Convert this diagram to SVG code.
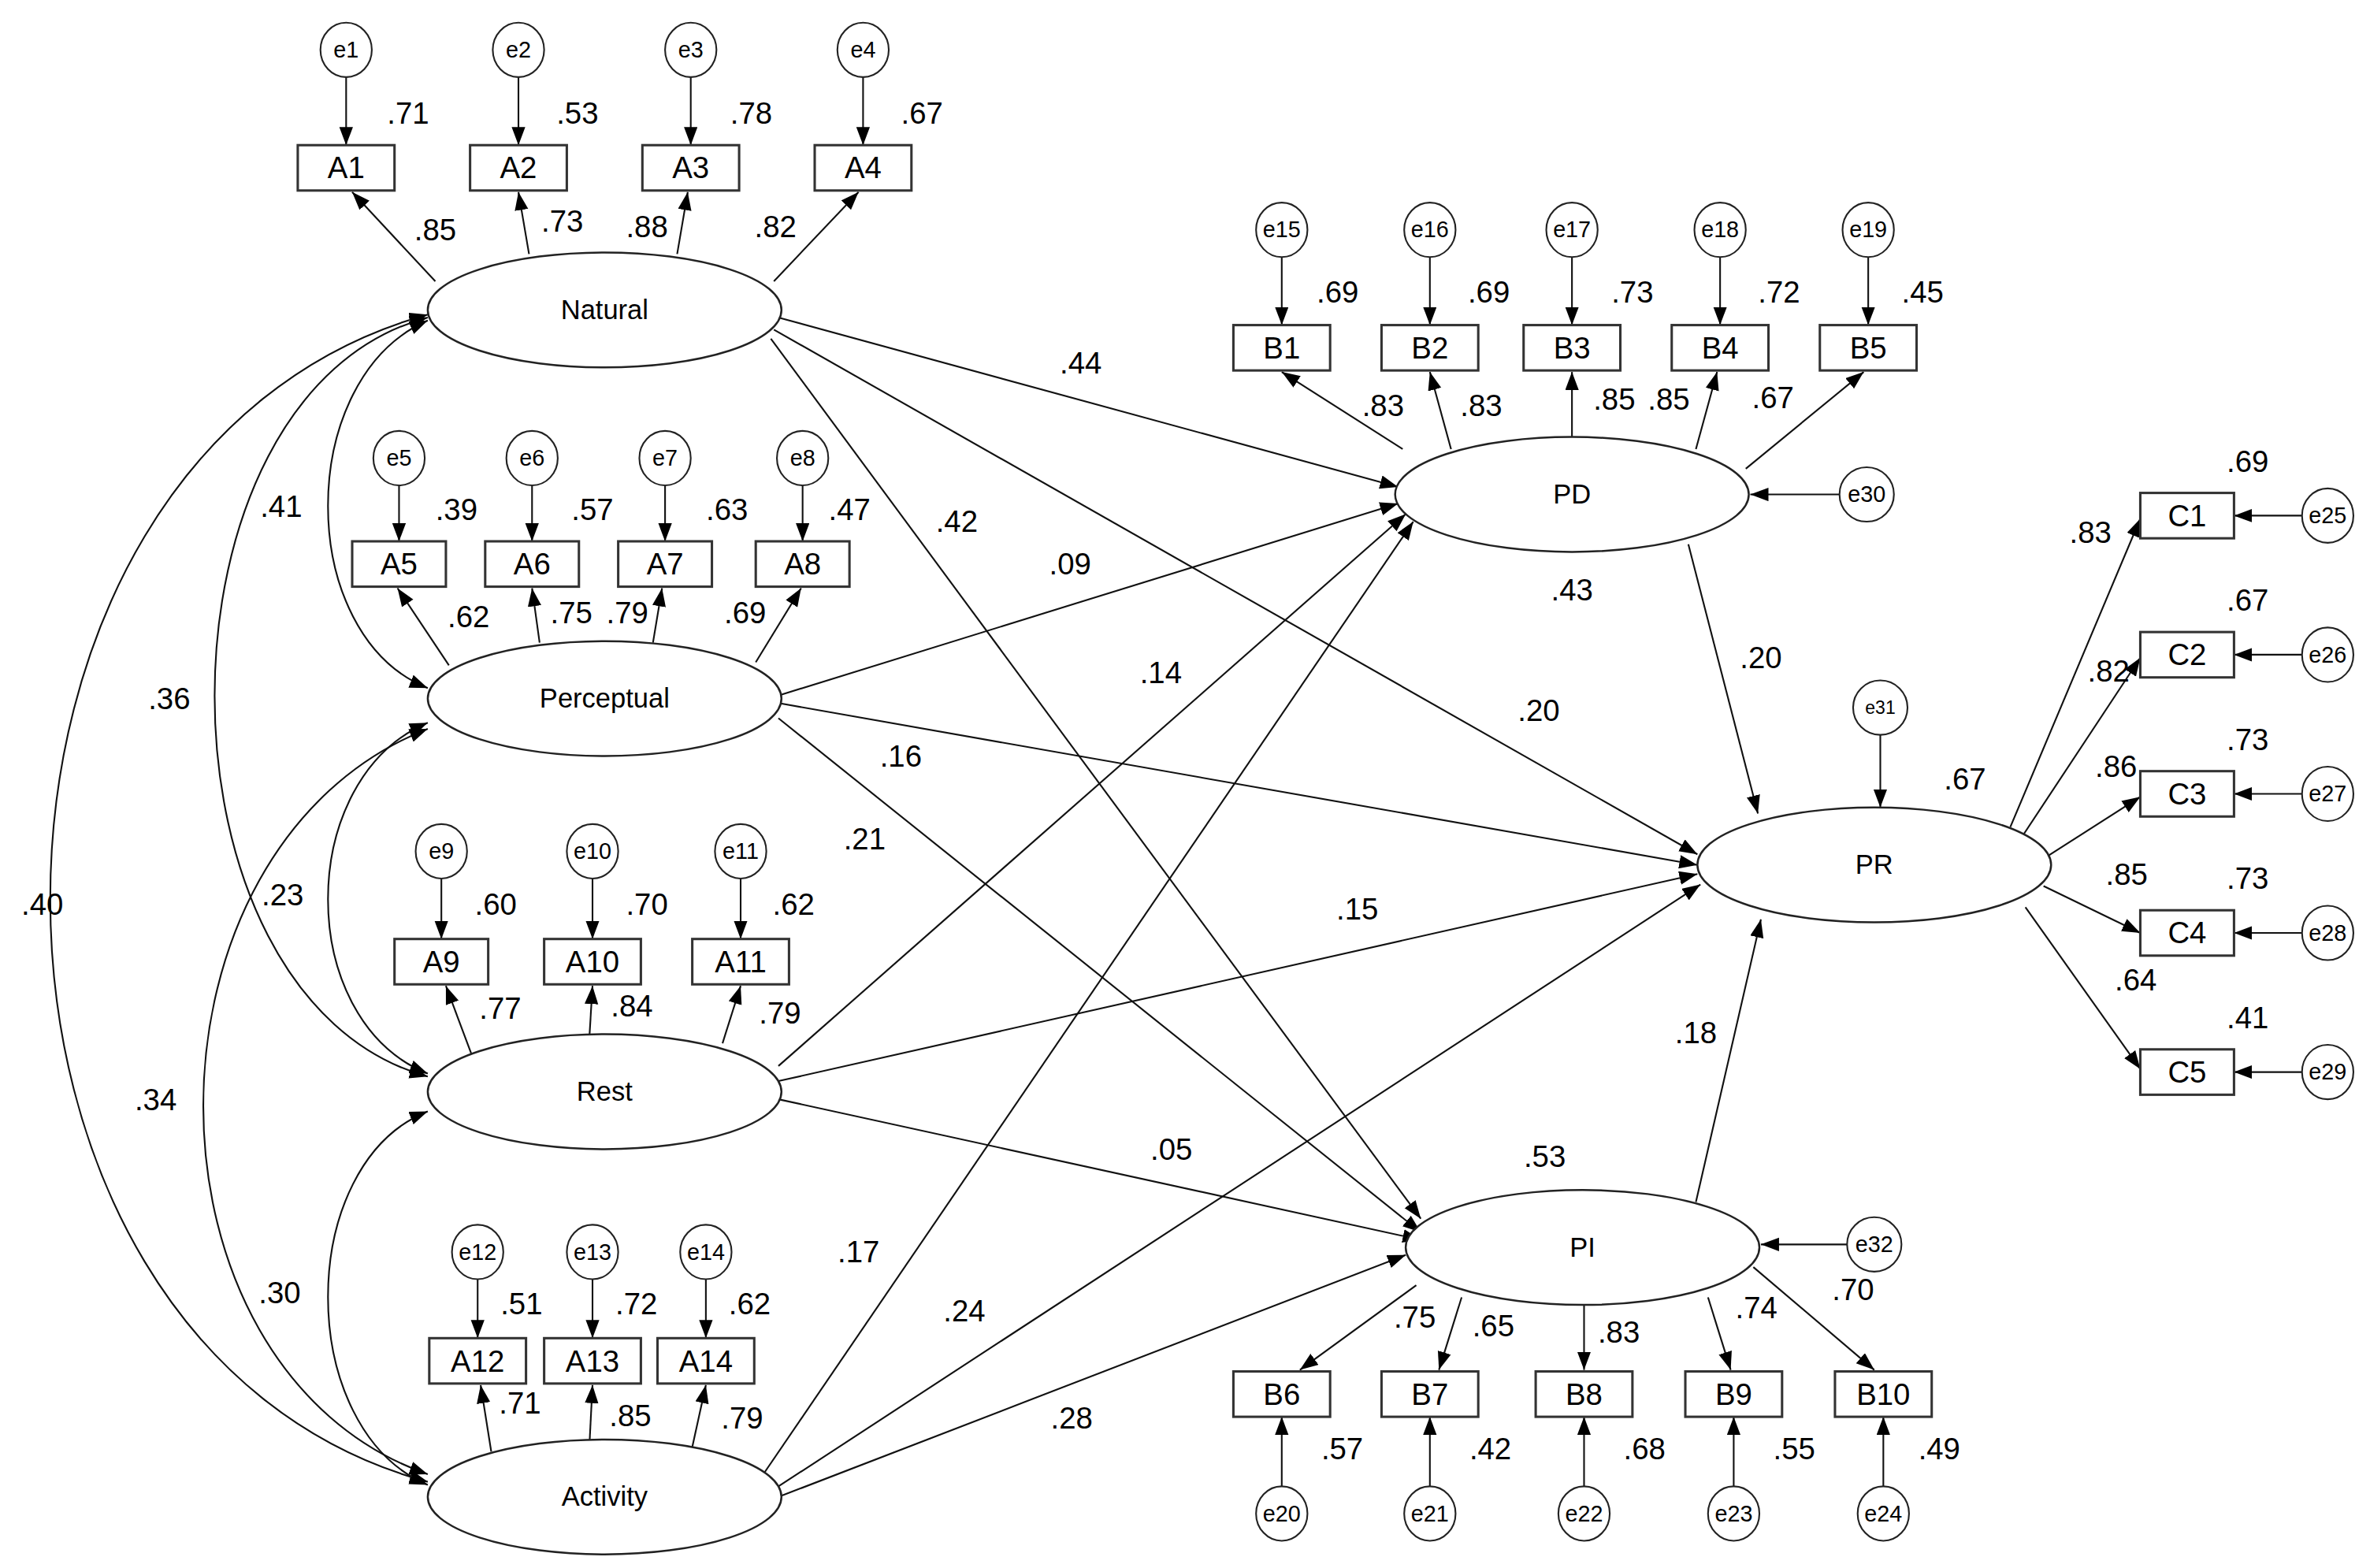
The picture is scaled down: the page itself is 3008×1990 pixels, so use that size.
<svg xmlns="http://www.w3.org/2000/svg" width="3008" height="1990" viewBox="0 0 3008 1990">
<defs>
<marker id="ah" markerUnits="userSpaceOnUse" markerWidth="13" markerHeight="10" refX="12" refY="4.5" orient="auto-start-reverse"><path d="M0,0 L12,4.5 L0,9 z" fill="#000"/></marker>
</defs>
<style>
.lat{fill:#fff;stroke:#222;stroke-width:1.3}
.box{fill:#fff;stroke:#333;stroke-width:1.6}
.err{fill:#fff;stroke:#222;stroke-width:1.1}
.c{fill:none;stroke:#111;stroke-width:1.1;marker-end:url(#ah)}
.cv{fill:none;stroke:#111;stroke-width:1.1;marker-end:url(#ah);marker-start:url(#ah)}
text{font-family:"Liberation Sans",Arial,sans-serif;text-anchor:middle;fill:#000}
.n{font-size:20px}
.bl{font-size:20px}
.ll{font-size:18px}
.el{font-size:15px}
</style>
<rect width="3008" height="1990" fill="#fff"/>
<g transform="scale(1.9184 1.919)">
<g id="connectors">
<!-- error arrows top -->
<path class="c" d="M229,51 V96"/><path class="c" d="M343,51 V96"/><path class="c" d="M457,51 V96"/><path class="c" d="M571,51 V96"/>
<path class="c" d="M264,321 V358"/><path class="c" d="M352,321 V358"/><path class="c" d="M440,321 V358"/><path class="c" d="M531,321 V358"/>
<path class="c" d="M292,581 V621"/><path class="c" d="M392,581 V621"/><path class="c" d="M490,581 V621"/>
<path class="c" d="M316,846 V885"/><path class="c" d="M392,846 V885"/><path class="c" d="M467,846 V885"/>
<path class="c" d="M848,170 V215"/><path class="c" d="M946,170 V215"/><path class="c" d="M1040,170 V215"/><path class="c" d="M1138,170 V215"/><path class="c" d="M1236,170 V215"/>
<path class="c" d="M848,983 V937"/><path class="c" d="M946,983 V937"/><path class="c" d="M1048,983 V937"/><path class="c" d="M1147,983 V937"/><path class="c" d="M1246,983 V937"/>
<path class="c" d="M1523,341 H1478"/><path class="c" d="M1523,433 H1478"/><path class="c" d="M1523,525 H1478"/><path class="c" d="M1523,617 H1478"/><path class="c" d="M1523,709 H1478"/>
<path class="c" d="M1218,327 H1158"/><path class="c" d="M1244,486 V534"/><path class="c" d="M1223,823 H1165"/>
<!-- loadings -->
<path class="c" d="M288,186 L233,127"/><path class="c" d="M350,168 L343,127"/><path class="c" d="M448,168 L455,127"/><path class="c" d="M512,186 L568,127"/>
<path class="c" d="M297,440 L263,389"/><path class="c" d="M357,425 L352,389"/><path class="c" d="M432,425 L438,389"/><path class="c" d="M500,438 L530,389"/>
<path class="c" d="M313,700 L295,652"/><path class="c" d="M390,685 L392,652"/><path class="c" d="M478,690 L490,652"/>
<path class="c" d="M325,960 L318,916"/><path class="c" d="M390,955 L392,916"/><path class="c" d="M458,957 L467,916"/>
<path class="c" d="M928,297 L848,246"/><path class="c" d="M960,297 L946,246"/><path class="c" d="M1040,289 L1040,246"/><path class="c" d="M1122,297 L1136,246"/><path class="c" d="M1155,310 L1233,246"/>
<path class="c" d="M937,850 L860,906"/><path class="c" d="M967,858 L952,906"/><path class="c" d="M1048,863 L1048,906"/><path class="c" d="M1130,858 L1145,906"/><path class="c" d="M1160,838 L1240,906"/>
<path class="c" d="M1330,547 L1416,343"/><path class="c" d="M1338,553 L1416,435"/><path class="c" d="M1355,566 L1416,527"/><path class="c" d="M1352,586 L1416,617"/><path class="c" d="M1340,600 L1416,707"/>
<!-- structural -->
<path class="c" d="M515,210 L925,322"/><path class="c" d="M512,218 L1123,565"/><path class="c" d="M510,224 L940,806"/>
<path class="c" d="M515,460 L925,333"/><path class="c" d="M515,465 L1123,572"/><path class="c" d="M515,475 L940,815"/>
<path class="c" d="M515,705 L930,340"/><path class="c" d="M515,715 L1123,578"/><path class="c" d="M515,727 L940,820"/>
<path class="c" d="M505,975 L935,345"/><path class="c" d="M512,985 L1125,585"/><path class="c" d="M515,990 L930,830"/>
<path class="c" d="M1117,360 L1163,538"/><path class="c" d="M1122,795 L1165,608"/>
<!-- covariances -->
<path class="cv" d="M283,212 C195,250 195,420 283,455"/>
<path class="cv" d="M283,210 C95,260 95,660 283,712"/>
<path class="cv" d="M283,208 C-50,300 -50,890 283,980"/>
<path class="cv" d="M283,478 C195,515 195,675 283,710"/>
<path class="cv" d="M283,482 C85,560 85,905 283,975"/>
<path class="cv" d="M283,735 C195,770 195,945 283,982"/>
</g>
<g id="labels">
<text class="n" x="270" y="82">.71</text><text class="n" x="382" y="82">.53</text><text class="n" x="497" y="82">.78</text><text class="n" x="610" y="82">.67</text>
<text class="n" x="288" y="159">.85</text><text class="n" x="372" y="153">.73</text><text class="n" x="428" y="157">.88</text><text class="n" x="513" y="157">.82</text>
<text class="n" x="302" y="344">.39</text><text class="n" x="392" y="344">.57</text><text class="n" x="481" y="344">.63</text><text class="n" x="562" y="344">.47</text>
<text class="n" x="310" y="415">.62</text><text class="n" x="378" y="412">.75</text><text class="n" x="415" y="412">.79</text><text class="n" x="493" y="412">.69</text>
<text class="n" x="328" y="605">.60</text><text class="n" x="428" y="605">.70</text><text class="n" x="525" y="605">.62</text>
<text class="n" x="331" y="674">.77</text><text class="n" x="418" y="672">.84</text><text class="n" x="516" y="677">.79</text>
<text class="n" x="345" y="869">.51</text><text class="n" x="421" y="869">.72</text><text class="n" x="496" y="869">.62</text>
<text class="n" x="344" y="935">.71</text><text class="n" x="417" y="943">.85</text><text class="n" x="491" y="945">.79</text>
<text class="n" x="885" y="200">.69</text><text class="n" x="985" y="200">.69</text><text class="n" x="1080" y="200">.73</text><text class="n" x="1177" y="200">.72</text><text class="n" x="1272" y="200">.45</text>
<text class="n" x="915" y="275">.83</text><text class="n" x="980" y="275">.83</text><text class="n" x="1068" y="271">.85</text><text class="n" x="1104" y="271">.85</text><text class="n" x="1173" y="270">.67</text>
<text class="n" x="1040" y="397">.43</text><text class="n" x="1165" y="442">.20</text><text class="n" x="1300" y="522">.67</text><text class="n" x="1122" y="690">.18</text><text class="n" x="1022" y="772">.53</text>
<text class="n" x="1487" y="312">.69</text><text class="n" x="1487" y="404">.67</text><text class="n" x="1487" y="496">.73</text><text class="n" x="1487" y="588">.73</text><text class="n" x="1487" y="680">.41</text>
<text class="n" x="1383" y="359">.83</text><text class="n" x="1395" y="451">.82</text><text class="n" x="1400" y="514">.86</text><text class="n" x="1407" y="585">.85</text><text class="n" x="1413" y="655">.64</text>
<text class="n" x="936" y="878">.75</text><text class="n" x="988" y="884">.65</text><text class="n" x="1071" y="888">.83</text><text class="n" x="1162" y="872">.74</text><text class="n" x="1226" y="860">.70</text>
<text class="n" x="888" y="965">.57</text><text class="n" x="986" y="965">.42</text><text class="n" x="1088" y="965">.68</text><text class="n" x="1187" y="965">.55</text><text class="n" x="1283" y="965">.49</text>
<text class="n" x="715" y="247">.44</text><text class="n" x="1018" y="477">.20</text><text class="n" x="633" y="352">.42</text><text class="n" x="708" y="380">.09</text>
<text class="n" x="768" y="452">.14</text><text class="n" x="596" y="507">.16</text><text class="n" x="572" y="562">.21</text><text class="n" x="898" y="608">.15</text>
<text class="n" x="775" y="767">.05</text><text class="n" x="568" y="835">.17</text><text class="n" x="638" y="874">.24</text><text class="n" x="709" y="945">.28</text>
<text class="n" x="186" y="342">.41</text><text class="n" x="112" y="469">.36</text><text class="n" x="28" y="605">.40</text><text class="n" x="187" y="599">.23</text><text class="n" x="103" y="734">.34</text><text class="n" x="185" y="862">.30</text>
</g>
<g id="latents">
<g id="Natural"><ellipse class="lat" cx="400" cy="205" rx="117" ry="38"/><text class="ll" x="400" y="211">Natural</text></g>
<g id="Perceptual"><ellipse class="lat" cx="400" cy="462" rx="117" ry="38"/><text class="ll" x="400" y="468">Perceptual</text></g>
<g id="Rest"><ellipse class="lat" cx="400" cy="722" rx="117" ry="38"/><text class="ll" x="400" y="728">Rest</text></g>
<g id="Activity"><ellipse class="lat" cx="400" cy="990" rx="117" ry="38"/><text class="ll" x="400" y="996">Activity</text></g>
<g id="PD"><ellipse class="lat" cx="1040" cy="327" rx="117" ry="38"/><text class="ll" x="1040" y="333">PD</text></g>
<g id="PR"><ellipse class="lat" cx="1240" cy="572" rx="117" ry="38"/><text class="ll" x="1240" y="578">PR</text></g>
<g id="PI"><ellipse class="lat" cx="1047" cy="825" rx="117" ry="38"/><text class="ll" x="1047" y="831">PI</text></g>
</g>
<g id="observed">
<g id="A1"><rect class="box" x="197" y="96" width="64" height="30"/><text class="bl" x="229" y="118">A1</text></g>
<g id="A2"><rect class="box" x="311" y="96" width="64" height="30"/><text class="bl" x="343" y="118">A2</text></g>
<g id="A3"><rect class="box" x="425" y="96" width="64" height="30"/><text class="bl" x="457" y="118">A3</text></g>
<g id="A4"><rect class="box" x="539" y="96" width="64" height="30"/><text class="bl" x="571" y="118">A4</text></g>
<g id="A5"><rect class="box" x="233" y="358" width="62" height="30"/><text class="bl" x="264" y="380">A5</text></g>
<g id="A6"><rect class="box" x="321" y="358" width="62" height="30"/><text class="bl" x="352" y="380">A6</text></g>
<g id="A7"><rect class="box" x="409" y="358" width="62" height="30"/><text class="bl" x="440" y="380">A7</text></g>
<g id="A8"><rect class="box" x="500" y="358" width="62" height="30"/><text class="bl" x="531" y="380">A8</text></g>
<g id="A9"><rect class="box" x="261" y="621" width="62" height="30"/><text class="bl" x="292" y="643">A9</text></g>
<g id="A10"><rect class="box" x="360" y="621" width="64" height="30"/><text class="bl" x="392" y="643">A10</text></g>
<g id="A11"><rect class="box" x="458" y="621" width="64" height="30"/><text class="bl" x="490" y="643">A11</text></g>
<g id="A12"><rect class="box" x="284" y="885" width="64" height="30"/><text class="bl" x="316" y="907">A12</text></g>
<g id="A13"><rect class="box" x="360" y="885" width="64" height="30"/><text class="bl" x="392" y="907">A13</text></g>
<g id="A14"><rect class="box" x="435" y="885" width="64" height="30"/><text class="bl" x="467" y="907">A14</text></g>
<g id="B1"><rect class="box" x="816" y="215" width="64" height="30"/><text class="bl" x="848" y="237">B1</text></g>
<g id="B2"><rect class="box" x="914" y="215" width="64" height="30"/><text class="bl" x="946" y="237">B2</text></g>
<g id="B3"><rect class="box" x="1008" y="215" width="64" height="30"/><text class="bl" x="1040" y="237">B3</text></g>
<g id="B4"><rect class="box" x="1106" y="215" width="64" height="30"/><text class="bl" x="1138" y="237">B4</text></g>
<g id="B5"><rect class="box" x="1204" y="215" width="64" height="30"/><text class="bl" x="1236" y="237">B5</text></g>
<g id="B6"><rect class="box" x="816" y="907" width="64" height="30"/><text class="bl" x="848" y="929">B6</text></g>
<g id="B7"><rect class="box" x="914" y="907" width="64" height="30"/><text class="bl" x="946" y="929">B7</text></g>
<g id="B8"><rect class="box" x="1016" y="907" width="64" height="30"/><text class="bl" x="1048" y="929">B8</text></g>
<g id="B9"><rect class="box" x="1115" y="907" width="64" height="30"/><text class="bl" x="1147" y="929">B9</text></g>
<g id="B10"><rect class="box" x="1214" y="907" width="64" height="30"/><text class="bl" x="1246" y="929">B10</text></g>
<g id="C1"><rect class="box" x="1416" y="326" width="62" height="30"/><text class="bl" x="1447" y="348">C1</text></g>
<g id="C2"><rect class="box" x="1416" y="418" width="62" height="30"/><text class="bl" x="1447" y="440">C2</text></g>
<g id="C3"><rect class="box" x="1416" y="510" width="62" height="30"/><text class="bl" x="1447" y="532">C3</text></g>
<g id="C4"><rect class="box" x="1416" y="602" width="62" height="30"/><text class="bl" x="1447" y="624">C4</text></g>
<g id="C5"><rect class="box" x="1416" y="694" width="62" height="30"/><text class="bl" x="1447" y="716">C5</text></g>
</g>
<g id="errors">
<g id="e1"><ellipse class="err" cx="229" cy="33" rx="17" ry="18"/><text class="el" x="229" y="38">e1</text></g>
<g id="e2"><ellipse class="err" cx="343" cy="33" rx="17" ry="18"/><text class="el" x="343" y="38">e2</text></g>
<g id="e3"><ellipse class="err" cx="457" cy="33" rx="17" ry="18"/><text class="el" x="457" y="38">e3</text></g>
<g id="e4"><ellipse class="err" cx="571" cy="33" rx="17" ry="18"/><text class="el" x="571" y="38">e4</text></g>
<g id="e5"><ellipse class="err" cx="264" cy="303" rx="17" ry="18"/><text class="el" x="264" y="308">e5</text></g>
<g id="e6"><ellipse class="err" cx="352" cy="303" rx="17" ry="18"/><text class="el" x="352" y="308">e6</text></g>
<g id="e7"><ellipse class="err" cx="440" cy="303" rx="17" ry="18"/><text class="el" x="440" y="308">e7</text></g>
<g id="e8"><ellipse class="err" cx="531" cy="303" rx="17" ry="18"/><text class="el" x="531" y="308">e8</text></g>
<g id="e9"><ellipse class="err" cx="292" cy="563" rx="17" ry="18"/><text class="el" x="292" y="568">e9</text></g>
<g id="e10"><ellipse class="err" cx="392" cy="563" rx="17" ry="18"/><text class="el" x="392" y="568">e10</text></g>
<g id="e11"><ellipse class="err" cx="490" cy="563" rx="17" ry="18"/><text class="el" x="490" y="568">e11</text></g>
<g id="e12"><ellipse class="err" cx="316" cy="828" rx="17" ry="18"/><text class="el" x="316" y="833">e12</text></g>
<g id="e13"><ellipse class="err" cx="392" cy="828" rx="17" ry="18"/><text class="el" x="392" y="833">e13</text></g>
<g id="e14"><ellipse class="err" cx="467" cy="828" rx="17" ry="18"/><text class="el" x="467" y="833">e14</text></g>
<g id="e15"><ellipse class="err" cx="848" cy="152" rx="17" ry="18"/><text class="el" x="848" y="157">e15</text></g>
<g id="e16"><ellipse class="err" cx="946" cy="152" rx="17" ry="18"/><text class="el" x="946" y="157">e16</text></g>
<g id="e17"><ellipse class="err" cx="1040" cy="152" rx="17" ry="18"/><text class="el" x="1040" y="157">e17</text></g>
<g id="e18"><ellipse class="err" cx="1138" cy="152" rx="17" ry="18"/><text class="el" x="1138" y="157">e18</text></g>
<g id="e19"><ellipse class="err" cx="1236" cy="152" rx="17" ry="18"/><text class="el" x="1236" y="157">e19</text></g>
<g id="e20"><ellipse class="err" cx="848" cy="1001" rx="17" ry="18"/><text class="el" x="848" y="1006">e20</text></g>
<g id="e21"><ellipse class="err" cx="946" cy="1001" rx="17" ry="18"/><text class="el" x="946" y="1006">e21</text></g>
<g id="e22"><ellipse class="err" cx="1048" cy="1001" rx="17" ry="18"/><text class="el" x="1048" y="1006">e22</text></g>
<g id="e23"><ellipse class="err" cx="1147" cy="1001" rx="17" ry="18"/><text class="el" x="1147" y="1006">e23</text></g>
<g id="e24"><ellipse class="err" cx="1246" cy="1001" rx="17" ry="18"/><text class="el" x="1246" y="1006">e24</text></g>
<g id="e25"><ellipse class="err" cx="1540" cy="341" rx="17" ry="18"/><text class="el" x="1540" y="346">e25</text></g>
<g id="e26"><ellipse class="err" cx="1540" cy="433" rx="17" ry="18"/><text class="el" x="1540" y="438">e26</text></g>
<g id="e27"><ellipse class="err" cx="1540" cy="525" rx="17" ry="18"/><text class="el" x="1540" y="530">e27</text></g>
<g id="e28"><ellipse class="err" cx="1540" cy="617" rx="17" ry="18"/><text class="el" x="1540" y="622">e28</text></g>
<g id="e29"><ellipse class="err" cx="1540" cy="709" rx="17" ry="18"/><text class="el" x="1540" y="714">e29</text></g>
<g id="e30"><ellipse class="err" cx="1235" cy="327" rx="18" ry="18"/><text class="el" x="1235" y="332">e30</text></g>
<g id="e31"><ellipse class="err" cx="1244" cy="468" rx="18" ry="18"/><text x="1244" y="472" style="font-size:12px">e31</text></g>
<g id="e32"><ellipse class="err" cx="1240" cy="823" rx="18" ry="18"/><text class="el" x="1240" y="828">e32</text></g>
</g>
</g>
</svg>
